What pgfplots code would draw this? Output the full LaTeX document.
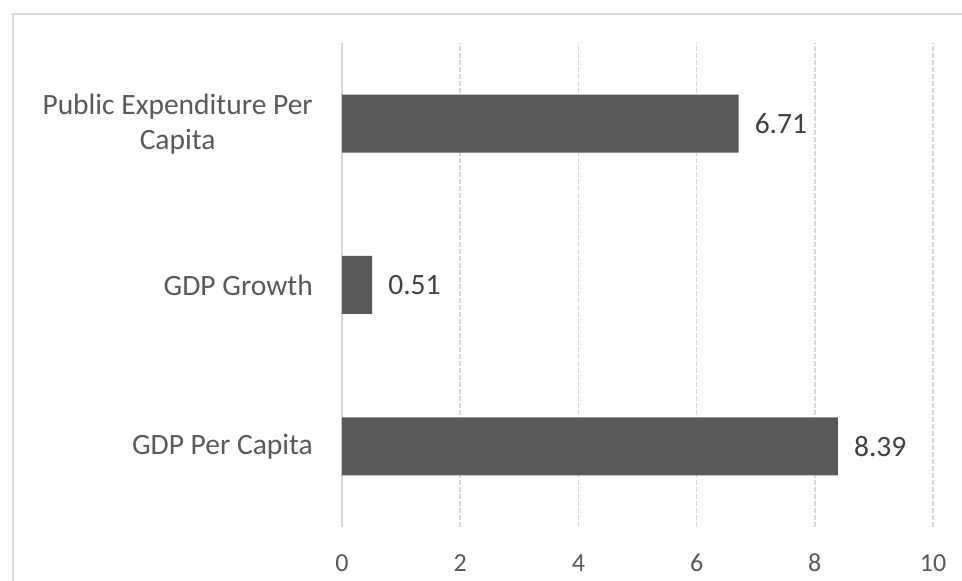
\documentclass[border=0pt]{standalone}
\usepackage{pgfplots}
\pgfplotsset{compat=1.18}
\usepackage{fontspec}
\setmainfont{Carlito}
\definecolor{barc}{HTML}{595959}
\definecolor{txt}{HTML}{595959}
\definecolor{lbl}{HTML}{404040}
\definecolor{gridc}{HTML}{D9D9D9}
\begin{document}
\begin{tikzpicture}[x=1pt,y=1pt]
\useasboundingbox (-342,-54) rectangle (620,527);
\draw[gridc, line width=1.5pt] (-329,-60) -- (-329,513) -- (630,513);
\begin{axis}[
  at={(0,0)}, anchor=south west,
  scale only axis, width=591pt, height=484pt,
  xmin=0, xmax=10, ymin=-0.5, ymax=2.5,
  xbar, bar width=58pt,
  axis line style={draw=none},
  tick style={draw=none}, major tick length=0pt,
  xtick={2,4,6,8,10},
  extra x ticks={0},
  extra x tick style={major grid style={solid, gridc, line width=1.6pt}},
  xmajorgrids,
  major grid style={gridc, line width=1.7pt, dash pattern=on 4.5pt off 2.5pt},
  ytick={0,1,2},
  yticklabels={GDP Per Capita, GDP Growth, {Public Expenditure Per\\Capita}},
  yticklabel style={align=center, anchor=east, inner sep=0pt, xshift=-29pt,
    font=\fontsize{29.5}{35}\selectfont, text=txt},
  xticklabel style={anchor=base, inner sep=0pt, yshift=-45pt,
    font=\fontsize{26}{30}\selectfont, text=txt},
  /pgf/number format/assume math mode=true,
  nodes near coords,
  nodes near coords style={anchor=west, inner sep=0pt, xshift=16pt,
    font=\fontsize{29.5}{34}\selectfont, text=lbl,
    /pgf/number format/fixed, /pgf/number format/precision=2,
    /pgf/number format/fixed zerofill, /pgf/number format/assume math mode=true},
]
\addplot[fill=barc, draw=none] coordinates {(8.39,0) (0.51,1) (6.71,2)};
\end{axis}
\end{tikzpicture}
\end{document}
